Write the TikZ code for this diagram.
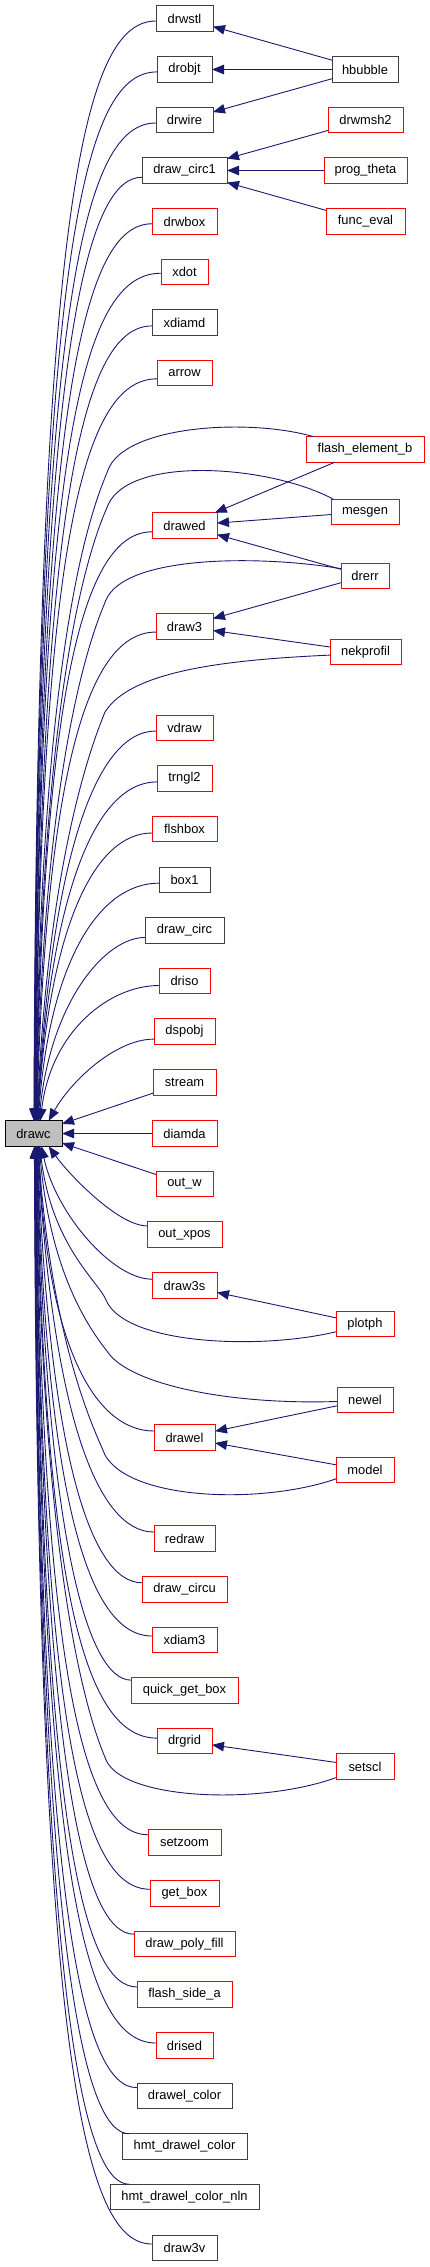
\documentclass[tikz,border=0pt]{standalone}
\usepackage{fontspec}
\setmainfont{Liberation Sans}
\usetikzlibrary{arrows.meta,calc}
\definecolor{edgec}{HTML}{191970}
\definecolor{rootfill}{HTML}{BFBFBF}
\tikzset{
  fn/.style={draw=black!75, line width=1pt, minimum height=25.5pt, inner sep=0pt, outer sep=0pt,
    font=\fontsize{12.9}{15}\selectfont, text=black, fill=white},
  rfn/.style={fn, draw=red},
  root/.style={fn, draw=black, fill=rootfill},
  e/.style={draw=edgec, line width=0.9pt, -{Triangle[length=12pt,width=9.5pt]}},
}
% curve from a caller (#1, start anchor #2) to drawc (end anchor #3)
\newcommand\cw[6]{%
  \draw[e] let \p1=(#1.#2), \p2=(drawc.#3) in
    (\p1) .. controls ({#4pt},{\y1}) and ({\x2+#6pt},{\y2+#5*((\y1)-(\y2))}) .. (\p2);}
\begin{document}
\begin{tikzpicture}[x=1pt,y=-1pt]
\useasboundingbox (0,0) rectangle (429,2267);
% ---- nodes, middle column
\node[fn,  minimum width=57]  (drwstl)   at (184.5,18.5)  {drwstl};
\node[fn,  minimum width=55]  (drobjt)   at (184.5,69.5)  {drobjt};
\node[fn,  minimum width=57]  (drwire)   at (184.5,120)   {drwire};
\node[fn,  minimum width=85]  (drawcircA) at (184.5,170.5) {draw\_circ1};
\node[rfn, minimum width=65]  (drwbox)   at (184.5,221.5) {drwbox};
\node[rfn, minimum width=47]  (xdot)     at (184.5,272)   {xdot};
\node[fn,  minimum width=65]  (xdiamd)   at (184.5,322.5) {xdiamd};
\node[rfn, minimum width=55]  (arrow)    at (184.5,373)   {arrow};
\node[rfn, minimum width=65]  (drawed)   at (184.5,525.5) {drawed};
\node[rfn, minimum width=57]  (draw3)    at (184.5,626.5) {draw3};
\node[rfn, minimum width=57]  (vdraw)    at (184.5,728)   {vdraw};
\node[rfn, minimum width=55]  (trngl2)   at (184.5,778.5) {trngl2};
\node[rfn, minimum width=65]  (flshbox)  at (184.5,829)   {flshbox};
\node[fn,  minimum width=51]  (boxA)     at (184.5,880)   {box1};
\node[fn,  minimum width=79]  (drawcirc) at (184.5,930.5) {draw\_circ};
\node[rfn, minimum width=51]  (driso)    at (184.5,981)   {driso};
\node[rfn, minimum width=61]  (dspobj)   at (184.5,1031.5) {dspobj};
\node[rfn, minimum width=63]  (stream)   at (184.5,1082.5) {stream};
\node[root,minimum width=57]  (drawc)    at (33.5,1133.5) {drawc};
\node[rfn, minimum width=65]  (diamda)   at (184.5,1133.5) {diamda};
\node[rfn, minimum width=57]  (outw)     at (184.5,1184)  {out\_w};
\node[rfn, minimum width=75]  (outxpos)  at (184.5,1234.5) {out\_xpos};
\node[rfn, minimum width=65]  (drawthrees) at (184.5,1285.5) {draw3s};
\node[rfn, minimum width=61]  (drawel)   at (184.5,1437.5) {drawel};
\node[rfn, minimum width=61]  (redraw)   at (184.5,1538.5) {redraw};
\node[rfn, minimum width=85]  (drawcircu) at (184.5,1589.5) {draw\_circu};
\node[rfn, minimum width=65]  (xdiamthree) at (184.5,1640) {xdiam3};
\node[rfn, minimum width=107] (quickgetbox) at (184.5,1690.5) {quick\_get\_box};
\node[rfn, minimum width=55]  (drgrid)   at (184.5,1741)  {drgrid};
\node[rfn, minimum width=73]  (setzoom)  at (184.5,1842.5) {setzoom};
\node[rfn, minimum width=69]  (getbox)   at (184.5,1893.5) {get\_box};
\node[rfn, minimum width=101] (drawpolyfill) at (184.5,1944) {draw\_poly\_fill};
\node[rfn, minimum width=95]  (flashsidea) at (184.5,1994.5) {flash\_side\_a};
\node[rfn, minimum width=57]  (drised)   at (184.5,2045.5) {drised};
\node[fn,  minimum width=95]  (drawelcolor) at (184.5,2096) {drawel\_color};
\node[fn,  minimum width=125] (hmtdc)    at (184.5,2146.5) {hmt\_drawel\_color};
\node[fn,  minimum width=149] (hmtdcn)   at (184.5,2197)  {hmt\_drawel\_color\_nln};
\node[fn,  minimum width=65]  (drawthreev) at (184.5,2248) {draw3v};
% ---- nodes, right column
\node[fn,  minimum width=66]  (hbubble)  at (365,69.5)    {hbubble};
\node[rfn, minimum width=75]  (drwmsh)   at (365.5,120)   {drwmsh2};
\node[rfn, minimum width=83]  (progtheta) at (365.5,170.5) {prog\_theta};
\node[rfn, minimum width=79]  (funceval) at (365.5,221.5) {func\_eval};
\node[rfn, minimum width=118] (feb)      at (365,449.5)   {flash\_element\_b};
\node[rfn, minimum width=68]  (mesgen)   at (365,512)     {mesgen};
\node[rfn, minimum width=48]  (drerr)    at (365,576)     {drerr};
\node[rfn, minimum width=71]  (nekprofil) at (365.5,652)  {nekprofil};
\node[rfn, minimum width=58]  (plotph)   at (365,1324)    {plotph};
\node[rfn, minimum width=56]  (newel)    at (365,1400)    {newel};
\node[rfn, minimum width=58]  (model)    at (365,1470)    {model};
\node[rfn, minimum width=58]  (setscl)   at (365,1766.5)  {setscl};
% ---- straight edges
\draw[e] (hbubble) -- (drwstl);
\draw[e] (hbubble) -- (drobjt);
\draw[e] (hbubble) -- (drwire);
\draw[e] (drwmsh) -- (drawcircA);
\draw[e] (progtheta) -- (drawcircA);
\draw[e] (funceval) -- (drawcircA);
\draw[e] (feb) -- (drawed);
\draw[e] (mesgen) -- (drawed);
\draw[e] (drerr) -- (drawed);
\draw[e] (drerr) -- (draw3);
\draw[e] (nekprofil) -- (draw3);
\draw[e] (plotph) -- (drawthrees);
\draw[e] (newel) -- (drawel);
\draw[e] (model) -- (drawel);
\draw[e] (setscl) -- (drgrid);
\draw[e] (diamda) -- (drawc);
\draw[e] (stream) -- (drawc);
\draw[e] (outw) -- (drawc);
% ---- curved edges into drawc, callers above
\cw{drwstl}{185}{88}{85}{0.84}{3}
\cw{drobjt}{185}{87}{85}{0.84}{3}
\cw{drwire}{186}{86}{85}{0.83}{3}
\cw{drawcircA}{189}{85}{88}{0.83}{3}
\cw{drwbox}{184}{84}{86}{0.82}{4}
\cw{xdot}{183}{83}{86}{0.82}{4}
\cw{xdiamd}{186}{82}{86}{0.8}{5}
\cw{arrow}{192}{81}{86}{0.8}{5}
\cw{drawed}{191}{78}{87}{0.76}{8}
\cw{draw3}{191}{76}{88}{0.72}{10}
\cw{vdraw}{186}{74}{93}{0.65}{14}
\cw{trngl2}{187}{73}{94}{0.66}{13}
\cw{flshbox}{187}{72}{95}{0.68}{12}
\cw{boxA}{187}{70}{100}{0.68}{12}
\cw{drawcirc}{190}{67}{105}{0.65}{12}
\cw{driso}{190}{62}{110}{0.67}{11}
\cw{dspobj}{194}{40}{115}{0.48}{22}
% ---- curved edges into drawc, callers below
\cw{outxpos}{167}{-40}{118}{0.35}{20}
\cw{drawthrees}{169}{-58}{112}{0.5}{14}
\cw{drawel}{168}{-68}{95}{0.7}{8}
\cw{redraw}{168}{-72}{93}{0.65}{14}
\cw{drawcircu}{171}{-73}{90}{0.7}{12}
\cw{xdiamthree}{173}{-74}{88}{0.72}{10}
\cw{quickgetbox}{169}{-75}{88}{0.74}{9}
\cw{drgrid}{174}{-76}{86}{0.76}{8}
\cw{setzoom}{168}{-78}{86}{0.78}{6}
\cw{getbox}{173}{-79}{85}{0.8}{5}
\cw{drawpolyfill}{169}{-80}{85}{0.8}{5}
\cw{flashsidea}{171}{-81}{85}{0.82}{4}
\cw{drised}{175}{-82}{85}{0.82}{4}
\cw{drawelcolor}{170}{-83}{85}{0.83}{3}
\cw{hmtdc}{167}{-84}{85}{0.83}{3}
\cw{hmtdcn}{167}{-85}{85}{0.84}{3}
\cw{drawthreev}{173}{-86}{85}{0.84}{3}
% ---- long curves from the right column into drawc
\draw[e] (feb.166) .. controls (250,418) and (125,425) .. (108,470)
  .. controls (100,492) and ($(drawc.80)+(5,-514)$) .. (drawc.80);
\draw[e] (mesgen.158) .. controls (270,465) and (130,455) .. (108,505)
  .. controls (100,525) and ($(drawc.79)+(6,-480)$) .. (drawc.79);
\draw[e] (drerr.163) .. controls (260,555) and (125,555) .. (106,600)
  .. controls (98,620) and ($(drawc.77)+(8,-385)$) .. (drawc.77);
\draw[e] (nekprofil.185) .. controls (220,660) and (130,672) .. (105,712)
  .. controls (98,730) and ($(drawc.75)+(12,-278)$) .. (drawc.75);
\draw[e] (plotph.195) .. controls (260,1350) and (125,1345) .. (106,1300)
  .. controls (99,1282) and ($(drawc.-64)+(12,100)$) .. (drawc.-64);
\draw[e] (newel.183) .. controls (230,1405) and (135,1385) .. (110,1355)
  .. controls (97,1338) and ($(drawc.-66)+(12,138)$) .. (drawc.-66);
\draw[e] (model.197) .. controls (260,1505) and (130,1500) .. (105,1455)
  .. controls (98,1437) and ($(drawc.-70)+(14,204)$) .. (drawc.-70);
\draw[e] (setscl.201) .. controls (260,1805) and (128,1800) .. (107,1762)
  .. controls (100,1745) and ($(drawc.-77)+(6,480)$) .. (drawc.-77);
\end{tikzpicture}
\end{document}
